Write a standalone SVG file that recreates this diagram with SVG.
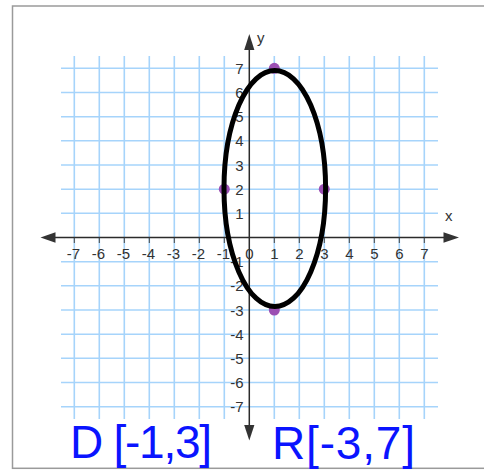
<svg xmlns="http://www.w3.org/2000/svg" width="484" height="475" viewBox="0 0 484 475">
  <style>
    .grid line { stroke: #a6d4fb; stroke-width: 1.6; }
    .axis { stroke: #2b2b2b; stroke-width: 1.5; fill: none; }
    .tick { stroke: #444; stroke-width: 1; }
    .lbl { font-family: "Liberation Sans", Arial, sans-serif; font-size: 15px; fill: #333; }
    .xl { text-anchor: middle; }
    .yl { text-anchor: end; }
    .pt { fill: #9b4fb3; }
    .hand { font-family: "Liberation Sans", Arial, sans-serif; font-size: 46px; fill: #0a14ff; }
  </style>
  <rect x="0" y="0" width="484" height="475" fill="#ffffff"/>
  <g id="frame">
    <rect x="12.5" y="6" width="480" height="462.3" fill="none" stroke="#9a9a9a" stroke-width="1.5"/>
  </g>
  <g id="grid" class="grid">
    <line x1="74.3" y1="56" x2="74.3" y2="419"/>
    <line x1="99.3" y1="56" x2="99.3" y2="419"/>
    <line x1="124.3" y1="56" x2="124.3" y2="419"/>
    <line x1="149.3" y1="56" x2="149.3" y2="419"/>
    <line x1="174.3" y1="56" x2="174.3" y2="419"/>
    <line x1="199.3" y1="56" x2="199.3" y2="419"/>
    <line x1="224.3" y1="56" x2="224.3" y2="419"/>
    <line x1="274.3" y1="56" x2="274.3" y2="419"/>
    <line x1="299.3" y1="56" x2="299.3" y2="419"/>
    <line x1="324.3" y1="56" x2="324.3" y2="419"/>
    <line x1="349.3" y1="56" x2="349.3" y2="419"/>
    <line x1="374.3" y1="56" x2="374.3" y2="419"/>
    <line x1="399.3" y1="56" x2="399.3" y2="419"/>
    <line x1="424.3" y1="56" x2="424.3" y2="419"/>
    <line x1="61" y1="68.3" x2="438" y2="68.3"/>
    <line x1="61" y1="92.5" x2="438" y2="92.5"/>
    <line x1="61" y1="116.7" x2="438" y2="116.7"/>
    <line x1="61" y1="140.8" x2="438" y2="140.8"/>
    <line x1="61" y1="165" x2="438" y2="165"/>
    <line x1="61" y1="189.2" x2="438" y2="189.2"/>
    <line x1="61" y1="213.3" x2="438" y2="213.3"/>
    <line x1="61" y1="261.7" x2="438" y2="261.7"/>
    <line x1="61" y1="285.8" x2="438" y2="285.8"/>
    <line x1="61" y1="310" x2="438" y2="310"/>
    <line x1="61" y1="334.2" x2="438" y2="334.2"/>
    <line x1="61" y1="358.3" x2="438" y2="358.3"/>
    <line x1="61" y1="382.5" x2="438" y2="382.5"/>
    <line x1="61" y1="406.7" x2="438" y2="406.7"/>
  </g>
  <g id="axes">
    <line class="axis" x1="54" y1="237.5" x2="445" y2="237.5"/>
    <line class="axis" x1="249.3" y1="49" x2="249.3" y2="426"/>
    <polygon points="40.5,237.5 55.5,232.3 55.5,242.7" fill="#333"/>
    <polygon points="459,237.5 443.5,232.3 443.5,242.7" fill="#333"/>
    <polygon points="249.3,34 244.2,50 254.4,50" fill="#333"/>
    <polygon points="249.3,440.5 244.2,425 254.4,425" fill="#333"/>
    <g class="tick">
      <line x1="74.3" y1="237.5" x2="74.3" y2="243"/>
      <line x1="99.3" y1="237.5" x2="99.3" y2="243"/>
      <line x1="124.3" y1="237.5" x2="124.3" y2="243"/>
      <line x1="149.3" y1="237.5" x2="149.3" y2="243"/>
      <line x1="174.3" y1="237.5" x2="174.3" y2="243"/>
      <line x1="199.3" y1="237.5" x2="199.3" y2="243"/>
      <line x1="224.3" y1="237.5" x2="224.3" y2="243"/>
      <line x1="274.3" y1="237.5" x2="274.3" y2="243"/>
      <line x1="299.3" y1="237.5" x2="299.3" y2="243"/>
      <line x1="324.3" y1="237.5" x2="324.3" y2="243"/>
      <line x1="349.3" y1="237.5" x2="349.3" y2="243"/>
      <line x1="374.3" y1="237.5" x2="374.3" y2="243"/>
      <line x1="399.3" y1="237.5" x2="399.3" y2="243"/>
      <line x1="424.3" y1="237.5" x2="424.3" y2="243"/>
    </g>
    <text class="lbl" x="257" y="42.5">y</text>
    <text class="lbl" x="445" y="221">x</text>
  </g>
  <g id="x-labels" class="lbl xl">
    <text x="73.5" y="258.5">-7</text>
    <text x="98.5" y="258.5">-6</text>
    <text x="123.5" y="258.5">-5</text>
    <text x="148.5" y="258.5">-4</text>
    <text x="173.5" y="258.5">-3</text>
    <text x="198.5" y="258.5">-2</text>
    <text x="223.5" y="258.5">-1</text>
    <text x="249.5" y="258.5">0</text>
    <text x="274.3" y="258.5">1</text>
    <text x="299.3" y="258.5">2</text>
    <text x="324.3" y="258.5">3</text>
    <text x="349.3" y="258.5">4</text>
    <text x="374.3" y="258.5">5</text>
    <text x="399.3" y="258.5">6</text>
    <text x="424.3" y="258.5">7</text>
  </g>
  <g id="y-labels" class="lbl yl">
    <text x="243.5" y="73.8">7</text>
    <text x="243.5" y="98">6</text>
    <text x="243.5" y="122.2">5</text>
    <text x="243.5" y="146.3">4</text>
    <text x="243.5" y="170.5">3</text>
    <text x="243.5" y="194.7">2</text>
    <text x="243.5" y="218.8">1</text>
    <text x="243.5" y="267.2">-1</text>
    <text x="243.5" y="291.3">-2</text>
    <text x="243.5" y="315.5">-3</text>
    <text x="243.5" y="339.7">-4</text>
    <text x="243.5" y="363.8">-5</text>
    <text x="243.5" y="388">-6</text>
    <text x="243.5" y="412.2">-7</text>
  </g>
  <g id="points">
    <circle class="pt" cx="274.3" cy="68.3" r="5.5"/>
    <circle class="pt" cx="224.3" cy="189.2" r="5.5"/>
    <circle class="pt" cx="324.3" cy="189.2" r="5.5"/>
    <circle class="pt" cx="274.3" cy="310" r="5.5"/>
  </g>
  <g id="ellipse">
    <ellipse cx="274.8" cy="188.5" rx="50.8" ry="118" fill="none" stroke="#000" stroke-width="5"/>
  </g>
  <g id="annotations">
    <text class="hand" x="70" y="458" textLength="142" lengthAdjust="spacing">D [-1,3]</text>
    <text class="hand" x="272" y="459" textLength="143" lengthAdjust="spacing">R[-3,7]</text>
  </g>
</svg>
